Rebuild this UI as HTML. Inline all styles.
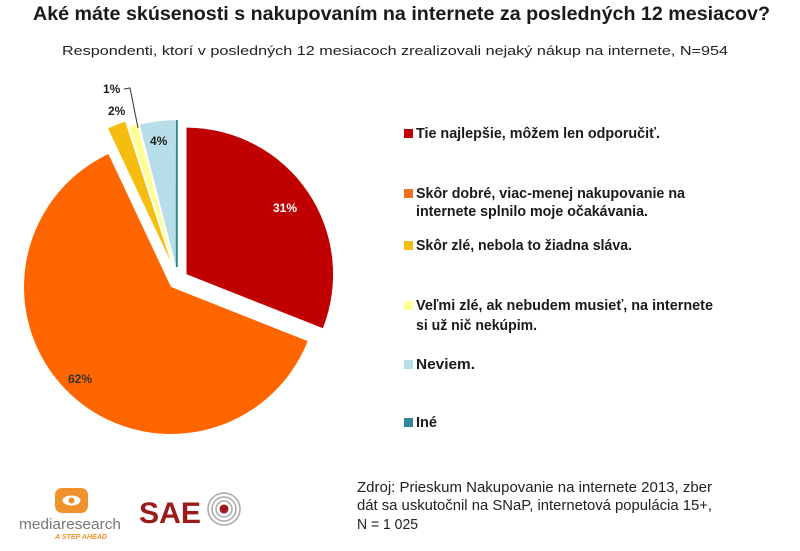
<!DOCTYPE html>
<html><head><meta charset="utf-8"><style>
html,body{margin:0;padding:0;background:#fff}
svg{display:block}
text{font-family:"Liberation Sans",sans-serif}
</style></head><body>
<svg width="800" height="551" viewBox="0 0 800 551" xmlns="http://www.w3.org/2000/svg">
<text x="33" y="20" font-size="19" font-weight="bold" fill="#1a1a1a" textLength="737" lengthAdjust="spacingAndGlyphs">Aké máte skúsenosti s nakupovaním na internete za posledných 12 mesiacov?</text>
<text x="62" y="55" font-size="13" fill="#222" textLength="666" lengthAdjust="spacingAndGlyphs">Respondenti, ktorí v posledných 12 mesiacoch zrealizovali nejaký nákup na internete, N=954</text>

<path d="M186.3,274.4 L186.3,127.4 A147,147 0 0 1 323,328.5 Z" fill="#c00000" stroke="#fff" stroke-width="0.5"/>
<path d="M171,287 L307.7,341.1 A147,147 0 1 1 108.4,154 Z" fill="#ff6600"/>
<path d="M170.6,261.4 L108,128.4 A147,147 0 0 1 125.2,121.6 Z" fill="#f5bd0f"/>
<path d="M174.1,266.6 L128.7,126.8 A147,147 0 0 1 137.5,124.2 Z" fill="#ffff99"/>
<path d="M176.3,267.1 L139.7,124.7 A147,147 0 0 1 175.3,120.1 Z" fill="#b7dde8"/>
<line x1="176.8" y1="267" x2="176.8" y2="120" stroke="#31859c" stroke-width="2"/>

<text x="273" y="212" font-size="12" font-weight="bold" fill="#fff">31%</text>
<text x="68" y="383" font-size="12" font-weight="bold" fill="#333">62%</text>
<text x="150" y="145" font-size="12" font-weight="bold" fill="#222">4%</text>
<text x="108" y="115" font-size="12" font-weight="bold" fill="#222">2%</text>
<text x="103" y="93" font-size="12" font-weight="bold" fill="#222">1%</text>
<polyline points="124,89 130,88 138,128" fill="none" stroke="#333" stroke-width="1"/>

<g font-size="15" font-weight="bold" fill="#1a1a1a">
<rect x="404" y="129" width="9" height="9" fill="#c00000"/>
<text x="416" y="138" textLength="244" lengthAdjust="spacingAndGlyphs">Tie najlepšie, môžem len odporučiť.</text>
<rect x="404" y="189" width="9" height="9" fill="#f07020"/>
<text x="416" y="198" textLength="269" lengthAdjust="spacingAndGlyphs">Skôr dobré, viac-menej nakupovanie na</text>
<text x="416" y="216" textLength="232" lengthAdjust="spacingAndGlyphs">internete splnilo moje očakávania.</text>
<rect x="404" y="241" width="9" height="9" fill="#f5bd0f"/>
<text x="416" y="250" textLength="216" lengthAdjust="spacingAndGlyphs">Skôr zlé, nebola to  žiadna sláva.</text>
<rect x="404" y="301" width="9" height="9" fill="#ffff99"/>
<text x="416" y="310" textLength="297" lengthAdjust="spacingAndGlyphs">Veľmi zlé, ak nebudem musieť, na internete</text>
<text x="416" y="330" textLength="121" lengthAdjust="spacingAndGlyphs">si už nič nekúpim.</text>
<rect x="404" y="360" width="9" height="9" fill="#b7dde8"/>
<text x="416" y="369" textLength="59" lengthAdjust="spacingAndGlyphs">Neviem.</text>
<rect x="404" y="418" width="9" height="9" fill="#31859c"/>
<text x="416" y="427" textLength="21" lengthAdjust="spacingAndGlyphs">Iné</text>
</g>

<g font-size="15" fill="#222">
<text x="357" y="492" textLength="355" lengthAdjust="spacingAndGlyphs">Zdroj: Prieskum Nakupovanie na internete 2013, zber</text>
<text x="357" y="510" textLength="355" lengthAdjust="spacingAndGlyphs">dát sa uskutočnil na SNaP, internetová populácia 15+,</text>
<text x="357" y="529" textLength="61" lengthAdjust="spacingAndGlyphs">N = 1 025</text>
</g>

<rect x="55" y="488" width="33" height="25" rx="7" fill="#f0922b"/>
<ellipse cx="71.5" cy="500.5" rx="9" ry="5" fill="#fff"/>
<circle cx="71.5" cy="500.5" r="3" fill="#f0922b"/>
<text x="19" y="529" font-size="15" fill="#777" textLength="102" lengthAdjust="spacingAndGlyphs">mediaresearch</text>
<text x="55" y="539" font-size="7" font-weight="bold" font-style="italic" fill="#f0922b" textLength="52" lengthAdjust="spacingAndGlyphs">A STEP AHEAD</text>
<text x="139" y="523" font-size="30" font-weight="bold" fill="#9b1a1a" textLength="62" lengthAdjust="spacingAndGlyphs">SAE</text>
<circle cx="224" cy="509" r="16" fill="none" stroke="#aaa" stroke-width="1.5"/>
<circle cx="224" cy="509" r="12" fill="none" stroke="#aaa" stroke-width="1.5"/>
<circle cx="224" cy="509" r="8" fill="none" stroke="#aaa" stroke-width="1.5"/>
<circle cx="224" cy="509" r="4.5" fill="#9b1a1a"/>
</svg>
</body></html>
